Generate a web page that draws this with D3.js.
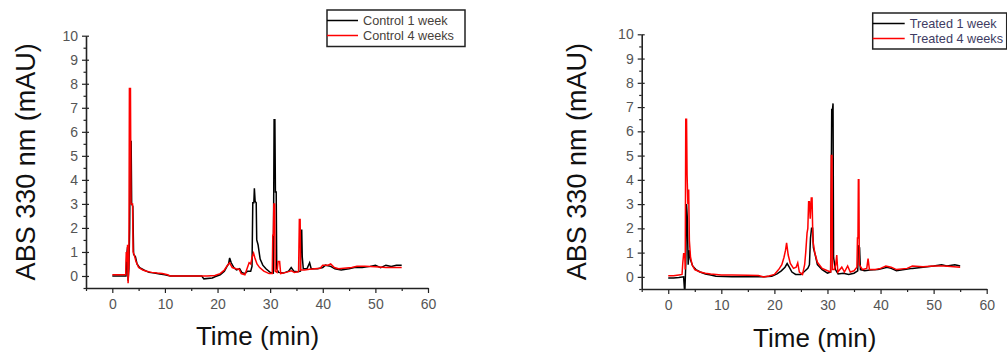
<!DOCTYPE html>
<html>
<head>
<meta charset="utf-8">
<script src="https://cdnjs.cloudflare.com/ajax/libs/d3/7.8.5/d3.min.js"></script>
<style>
  body { margin: 0; background: #fff; }
  svg { display: block; font-family: "Liberation Sans", Arial, sans-serif; }
</style>
</head>
<body>
<div id="chart"></div>
<script>
// [time (min), absorbance (mAU)]
const controlWeek1 = [[0,0.0],[1,0.0],[2,0.0],[2.6,0.0],[2.75,0.9],[2.9,1.2],[3.0,-0.2],[3.15,0.3],[3.3,2.0],[3.42,5.6],[3.58,5.6],[3.68,3.0],[3.9,2.9],[4.05,0.9],[4.4,0.8],[4.7,0.5],[5.2,0.35],[6,0.25],[7,0.15],[8,0.12],[9,0.08],[10,0.05],[11,0.0],[14,0.0],[17,0.0],[17.4,-0.12],[19,-0.08],[19.5,-0.03],[20.5,0.05],[21.3,0.2],[21.8,0.4],[22.1,0.5],[22.3,0.75],[22.6,0.55],[23.1,0.35],[23.6,0.25],[24.2,0.3],[24.6,0.15],[25.2,0.1],[25.7,0.2],[26.3,0.2],[26.55,0.4],[26.7,3.05],[26.9,3.05],[27.0,3.65],[27.15,3.1],[27.35,3.05],[27.45,1.5],[27.7,1.3],[28.1,0.7],[28.6,0.45],[29.2,0.3],[30,0.15],[30.6,0.12],[30.75,6.5],[30.9,6.5],[31.0,3.5],[31.15,3.5],[31.25,0.3],[31.6,0.15],[32.5,0.12],[33.5,0.2],[34.0,0.35],[34.5,0.2],[35.2,0.18],[35.75,0.2],[35.85,1.9],[36.0,1.9],[36.1,0.8],[36.3,0.3],[37.0,0.3],[37.5,0.55],[37.8,0.3],[39,0.3],[40,0.35],[40.5,0.45],[41.5,0.4],[42.3,0.3],[43.5,0.25],[45,0.3],[46,0.35],[47.5,0.35],[49,0.4],[50,0.45],[51,0.35],[52,0.45],[53,0.4],[54,0.45],[55,0.45]];

const controlWeek4 = [[0,0.05],[1,0.05],[2,0.05],[2.55,0.05],[2.65,1.0],[2.8,0.6],[2.9,1.3],[3.0,-0.3],[3.15,0.5],[3.25,7.8],[3.45,7.8],[3.55,3.0],[3.85,3.0],[3.95,1.0],[4.2,0.85],[4.5,0.6],[5,0.35],[5.8,0.25],[6.5,0.2],[7.5,0.15],[8.5,0.12],[9.5,0.1],[10.5,0.05],[11,0.0],[15,0.0],[18,0.0],[19.5,0.02],[20.5,0.1],[21.3,0.25],[21.9,0.45],[22.3,0.55],[22.8,0.35],[23.5,0.3],[24.1,0.28],[24.5,0.1],[25.2,0.05],[25.6,0.3],[26.0,0.55],[26.3,0.5],[26.6,0.8],[26.85,0.95],[27.1,0.75],[27.5,0.5],[28,0.35],[28.8,0.2],[29.8,0.1],[30.4,0.1],[30.5,1.7],[30.6,1.7],[30.7,3.0],[30.85,3.0],[30.95,0.2],[31.3,0.15],[31.5,0.6],[31.8,0.6],[32.0,0.1],[33,0.15],[34,0.22],[34.6,0.15],[35.4,0.18],[35.55,2.35],[35.7,2.35],[35.8,0.25],[36.5,0.25],[37.5,0.28],[38.5,0.3],[39.5,0.32],[40,0.45],[41,0.45],[41.5,0.5],[42.2,0.35],[43,0.3],[44.5,0.33],[45.5,0.35],[46.5,0.4],[48,0.4],[50,0.38],[52,0.35],[53.5,0.35],[55,0.35]];

const treatedWeek1 = [[0,-0.05],[1,-0.05],[2,-0.03],[2.9,0.0],[3.05,-0.5],[3.15,-0.5],[3.3,0.5],[3.45,3.0],[3.6,2.4],[3.75,0.5],[3.95,1.1],[4.2,0.7],[4.6,0.45],[5.2,0.3],[6,0.2],[7,0.12],[8,0.08],[9,0.03],[12,0.0],[15,0.0],[18,0.0],[19.5,0.03],[20.5,0.12],[21.3,0.25],[22,0.4],[22.4,0.55],[22.8,0.4],[23.3,0.2],[24,0.1],[25,0.1],[25.8,0.25],[26.3,0.35],[26.6,0.5],[26.8,1.6],[27.0,2.0],[27.2,2.0],[27.35,1.2],[27.7,0.9],[28.1,0.5],[29,0.3],[30,0.15],[30.6,0.2],[30.8,6.9],[30.95,6.9],[31.05,7.15],[31.15,0.8],[31.5,0.3],[32,0.12],[33,0.15],[34,0.1],[35,0.15],[35.7,0.25],[35.85,1.3],[36.05,1.2],[36.2,0.3],[37,0.25],[38,0.28],[39.5,0.3],[40.5,0.35],[41.2,0.4],[42,0.35],[43,0.25],[44.5,0.3],[46,0.35],[48,0.4],[50,0.45],[51.5,0.5],[52.5,0.45],[54,0.5],[55,0.45]];

const treatedWeek4 = [[0,0.05],[1,0.05],[2,0.08],[2.6,0.1],[2.75,0.6],[2.9,0.95],[3.1,0.95],[3.2,0.3],[3.3,6.5],[3.45,6.5],[3.55,4.2],[3.7,3.0],[3.85,3.6],[3.98,1.5],[4.2,0.8],[4.5,0.5],[5,0.3],[6,0.2],[7,0.15],[8,0.12],[9,0.1],[10,0.08],[12,0.08],[15,0.07],[17,0.06],[18,0.0],[19,0.04],[20,0.1],[20.8,0.3],[21.4,0.5],[21.8,0.8],[22.1,1.1],[22.3,1.4],[22.6,0.9],[23,0.55],[23.6,0.35],[24.1,0.4],[24.4,0.58],[24.7,0.2],[25.3,0.1],[25.7,0.5],[25.9,1.0],[26.15,1.8],[26.3,2.0],[26.45,3.1],[26.6,3.1],[26.75,2.4],[26.95,3.25],[27.1,3.25],[27.25,1.5],[27.6,1.0],[28.1,0.6],[29,0.35],[30,0.25],[30.6,0.2],[30.72,5.0],[30.85,5.0],[30.95,0.3],[31.3,0.3],[31.55,0.5],[31.75,0.9],[31.95,0.2],[32.7,0.4],[33.2,0.2],[33.8,0.45],[34.3,0.2],[35,0.25],[35.55,0.4],[35.65,1.6],[35.75,1.6],[35.82,4.0],[35.92,4.0],[36.0,0.5],[36.6,0.3],[37.4,0.35],[37.65,0.75],[37.9,0.3],[39,0.3],[40,0.35],[41,0.45],[42,0.4],[43,0.3],[45,0.35],[46,0.45],[48,0.42],[50,0.45],[52,0.45],[55,0.4]];

const xTicks = [0, 10, 20, 30, 40, 50, 60];
const xMinorTicks = [-5, 5, 15, 25, 35, 45, 55];
const yTicks = [0, 1, 2, 3, 4, 5, 6, 7, 8, 9, 10];
const yMinorTicks = [-0.5, 0.5, 1.5, 2.5, 3.5, 4.5, 5.5, 6.5, 7.5, 8.5, 9.5];

const xTitle = "Time (min)";
const yTitle = "ABS 330 nm (mAU)";

let svg = d3.select("#chart")
  .append("svg")
  .attr("width", 1007)
  .attr("height", 356);

DrawPanel({
  left: 86, right: 428, top: 35.7, bottom: 288,
  series: [controlWeek1, controlWeek4],
  names: ["Control 1 week", "Control 4 weeks"],
  legend: { x: 327, y: 10, w: 138, h: 36.5, line: 31 },
  legendColor: "#47413a",
  yTitleX: 35, xTitleY: 345
});

DrawPanel({
  left: 641.7, right: 986.7, top: 34.3, bottom: 289,
  series: [treatedWeek1, treatedWeek4],
  names: ["Treated 1 week", "Treated 4 weeks"],
  legend: { x: 872.7, y: 13, w: 134, h: 36, line: 32 },
  legendColor: "#3e3c63",
  yTitleX: 586, xTitleY: 347
});

function DrawPanel(p) {
  let colors = ["#000000", "#ff0000"];

  let xScale = d3.scaleLinear().domain([-5, 60]).range([p.left, p.right]);
  let yScale = d3.scaleLinear().domain([-0.5, 10]).range([p.bottom, p.top]);

  let g = svg.append("g");

  // traces, red on top
  let line = d3.line()
    .x(d => xScale(d[0]))
    .y(d => yScale(d[1]));

  p.series.forEach(function (s, i) {
    g.append("path")
      .datum(s)
      .attr("fill", "none")
      .attr("stroke", colors[i])
      .attr("stroke-width", 1.5)
      .attr("stroke-linejoin", "miter")
      .attr("d", line);
  });

  // x axis
  let xAxis = g.append("g")
    .attr("transform", "translate(0," + p.bottom + ")")
    .call(d3.axisBottom(xScale).tickValues(xTicks).tickSize(5).tickSizeOuter(0).tickFormat(d3.format("d")));
  g.append("g")
    .attr("transform", "translate(0," + p.bottom + ")")
    .call(d3.axisBottom(xScale).tickValues(xMinorTicks).tickSize(3).tickSizeOuter(0).tickFormat(""))
    .select(".domain").remove();

  // y axis
  let yAxis = g.append("g")
    .attr("transform", "translate(" + p.left + ",0)")
    .call(d3.axisLeft(yScale).tickValues(yTicks).tickSize(4).tickSizeOuter(0).tickFormat(d3.format("d")));
  g.append("g")
    .attr("transform", "translate(" + p.left + ",0)")
    .call(d3.axisLeft(yScale).tickValues(yMinorTicks).tickSize(2.5).tickSizeOuter(0).tickFormat(""))
    .select(".domain").remove();
  g.append("g")
    .attr("transform", "translate(" + p.left + ",0)")
    .call(d3.axisRight(yScale).tickValues(yTicks).tickSize(3).tickSizeOuter(0).tickFormat(""))
    .select(".domain").remove();

  g.selectAll(".domain").attr("stroke", "#222").attr("stroke-width", 1.6);
  g.selectAll(".tick line").attr("stroke", "#222").attr("stroke-width", 1.2);

  xAxis.selectAll("text")
    .attr("font-size", 14)
    .attr("fill", "#555")
    .attr("dy", "0.95em");
  yAxis.selectAll("text")
    .attr("font-size", 14)
    .attr("fill", "#555")
    .attr("x", -8);

  // titles
  g.append("text")
    .attr("transform", "translate(" + p.yTitleX + "," + (p.top + p.bottom) / 2 + ") rotate(-90)")
    .attr("text-anchor", "middle")
    .attr("font-size", 27)
    .attr("fill", "#111")
    .text(yTitle);

  g.append("text")
    .attr("x", xScale(0) + (xScale(60) - xScale(0)) * 0.46)
    .attr("y", p.xTitleY)
    .attr("text-anchor", "middle")
    .attr("font-size", 26)
    .attr("fill", "#111")
    .text(xTitle);

  // legend
  let lg = g.append("g");
  lg.append("rect")
    .attr("x", p.legend.x)
    .attr("y", p.legend.y)
    .attr("width", p.legend.w)
    .attr("height", p.legend.h)
    .attr("fill", "#fff")
    .attr("stroke", "#222")
    .attr("stroke-width", 1.5);

  p.names.forEach(function (name, i) {
    let yy = p.legend.y + 10.5 + i * 15;
    lg.append("line")
      .attr("x1", p.legend.x)
      .attr("x2", p.legend.x + p.legend.line)
      .attr("y1", yy)
      .attr("y2", yy)
      .attr("stroke", colors[i])
      .attr("stroke-width", 1.5);
    lg.append("text")
      .attr("x", p.legend.x + p.legend.line + 5)
      .attr("y", yy + 4.5)
      .attr("font-size", 12.7)
      .attr("fill", p.legendColor)
      .text(name);
  });
}
</script>
</body>
</html>
